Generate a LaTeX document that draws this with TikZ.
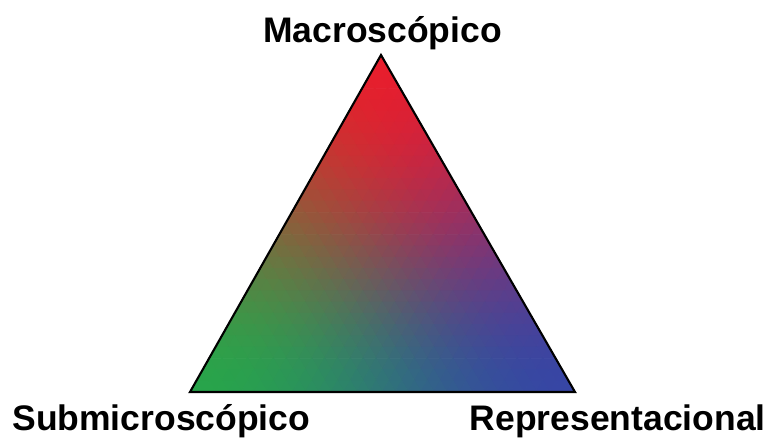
\documentclass[tikz,border=0pt]{standalone}
\usepackage{fontspec}
\setmainfont{Liberation Sans}

%% colour of one cell from its weights towards the left and right corners
\newcommand\cellcolour[2]{%
  \pgfmathsetmacro\ka{(1-#1-#2)^1.6}%
  \pgfmathsetmacro\kb{(#1)^1.6}%
  \pgfmathsetmacro\kc{(#2)^1.6}%
  \pgfmathsetmacro\ksum{\ka+\kb+\kc}%
  \pgfmathtruncatemacro\cellR{(232*\ka+40*\kb+55*\kc)/\ksum}%
  \pgfmathtruncatemacro\cellG{(30*\ka+165*\kb+70*\kc)/\ksum}%
  \pgfmathtruncatemacro\cellB{(45*\ka+75*\kb+165*\kc)/\ksum}%
  \definecolor{cell}{RGB}{\cellR,\cellG,\cellB}}

\tikzset{
  corner text/.style={font=\bfseries\fontsize{20.2}{24}\selectfont, inner sep=0pt},
  cellfill/.style={fill=cell, draw=cell, line width=0.5pt, line join=round}
}

\begin{document}
\begin{tikzpicture}
  \useasboundingbox (0,0) rectangle (15.52,8.82);

%% corners
  \coordinate (top) at (7.62,7.72);
  \coordinate (left) at (3.80,0.98);
  \coordinate (right) at (11.50,0.98);

%% shaded cells
  \begin{scope}[shift={(top)}, x={(-0.12733cm,-0.22467cm)}, y={(0.12933cm,-0.22467cm)}]
    \foreach \i [evaluate=\i as \jmax using int(29-\i)] in {0,...,29}{
      \foreach \j in {0,...,\jmax}{
        \pgfmathsetmacro\wl{(\i+1/3)/30}
        \pgfmathsetmacro\wr{(\j+1/3)/30}
        \cellcolour{\wl}{\wr}
        \path[cellfill] (\i,\j) -- (\i+1,\j) -- (\i,\j+1) -- cycle;
        \ifnum\numexpr\i+\j\relax<29
          \pgfmathsetmacro\wl{(\i+2/3)/30}
          \pgfmathsetmacro\wr{(\j+2/3)/30}
          \cellcolour{\wl}{\wr}
          \path[cellfill] (\i+1,\j) -- (\i,\j+1) -- (\i+1,\j+1) -- cycle;
        \fi
      }
    }
  \end{scope}

%% outline
  \draw[line width=1.2pt, line join=miter] (top) -- (left) -- (right) -- cycle;

%% labels
  \node[corner text, anchor=base] (macro) at (7.65,7.98) {Macroscópico};
  \node[corner text, anchor=base west] (submicro) at (0.24,0.22) {Submicroscópico};
  \node[corner text, anchor=base east] (repres) at (15.32,0.22) {Representacional};
\end{tikzpicture}
\end{document}
